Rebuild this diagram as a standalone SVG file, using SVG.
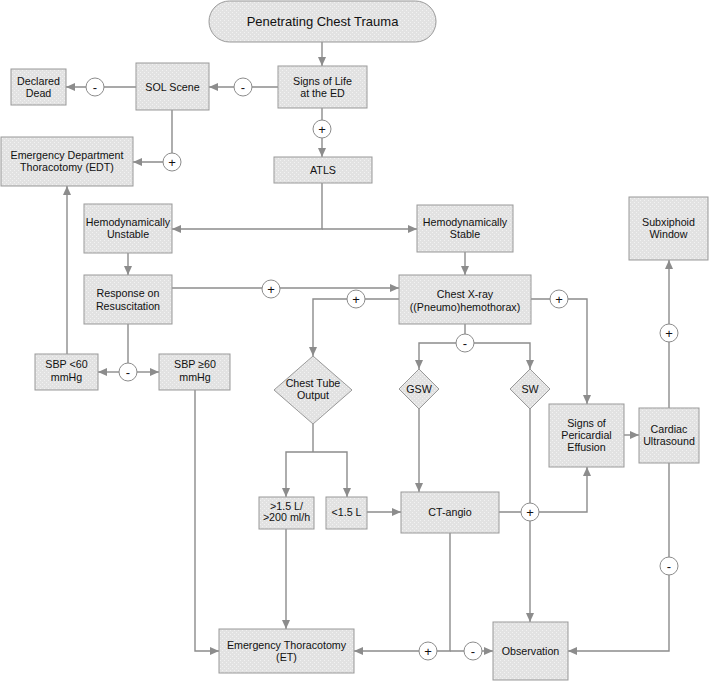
<svg xmlns="http://www.w3.org/2000/svg" width="709" height="681" viewBox="0 0 709 681">
<defs>
<marker id="ah" markerUnits="userSpaceOnUse" markerWidth="9" markerHeight="8" refX="9" refY="4" orient="auto">
<path d="M0,0 L9,4 L0,8 z" fill="#8c8c8c"/>
</marker>
<pattern id="tex" width="4" height="4" patternUnits="userSpaceOnUse">
<rect width="4" height="4" fill="#e2e2e2"/>
<rect x="0" y="0" width="1" height="1" fill="#f2f2f2"/>
<rect x="2" y="2" width="1" height="1" fill="#f2f2f2"/>
</pattern>
</defs>
<style>
.n{fill:url(#tex);stroke:#999;stroke-width:1}
.t{font-family:"Liberation Sans",Arial,sans-serif;font-size:10.7px;fill:#111;text-anchor:middle}
.c path{fill:none;stroke:#8c8c8c;stroke-width:1.4}
.a{marker-end:url(#ah)}
.j circle{fill:#fff;stroke:#8c8c8c;stroke-width:1}
.j text{font-family:"Liberation Sans",Arial,sans-serif;font-size:13px;fill:#111;text-anchor:middle}
</style>
<rect width="709" height="681" fill="#fff"/>
<g id="connectors" class="c">
<path class="a" d="M322,42 V66"/>
<path class="a" d="M278,87 H209"/>
<path class="a" d="M136,87 H66"/>
<path class="a" d="M172,110 V162 H133"/>
<path class="a" d="M322,108 V157"/>
<path class="a" d="M322,183 V229 H172"/>
<path class="a" d="M322,229 H417"/>
<path class="a" d="M128,253 V275"/>
<path class="a" d="M465,252 V275"/>
<path class="a" d="M172,288 H399"/>
<path class="a" d="M399,299 H313 V356"/>
<path d="M128,324 V372"/>
<path class="a" d="M128,372 H98"/>
<path class="a" d="M128,372 H159"/>
<path class="a" d="M67,354 V186"/>
<path class="a" d="M195,390 V651 H219"/>
<path class="a" d="M531,299 H587 V404"/>
<path d="M465,324 V343"/>
<path class="a" d="M465,343 H419 V369"/>
<path class="a" d="M465,343 H530 V369"/>
<path d="M313,424 V452"/>
<path class="a" d="M313,452 H286 V497"/>
<path class="a" d="M313,452 H347 V497"/>
<path class="a" d="M286,529 V629"/>
<path class="a" d="M367,512 H401"/>
<path class="a" d="M419,409 V492"/>
<path class="a" d="M530,409 V622"/>
<path class="a" d="M499,512 H587 V467"/>
<path class="a" d="M624,435 H639"/>
<path class="a" d="M669,408 V260"/>
<path class="a" d="M669,463 V651 H568"/>
<path class="a" d="M450,533 V651 H354"/>
<path class="a" d="M450,651 H493"/>
</g>
<g id="junctions" class="j">
<circle cx="243" cy="87" r="9"/><text x="243" y="91.5">-</text>
<circle cx="95" cy="87" r="9"/><text x="95" y="91.5">-</text>
<circle cx="172" cy="162" r="9"/><text x="172" y="166.5">+</text>
<circle cx="322" cy="129" r="9"/><text x="322" y="133.5">+</text>
<circle cx="271" cy="289" r="9"/><text x="271" y="293.5">+</text>
<circle cx="356" cy="299" r="9"/><text x="356" y="303.5">+</text>
<circle cx="128" cy="372" r="9"/><text x="128" y="376.5">-</text>
<circle cx="559" cy="299" r="9"/><text x="559" y="303.5">+</text>
<circle cx="465" cy="343" r="9"/><text x="465" y="347.5">-</text>
<circle cx="669" cy="333" r="9"/><text x="669" y="337.5">+</text>
<circle cx="530" cy="512" r="9"/><text x="530" y="516.5">+</text>
<circle cx="669" cy="566" r="9"/><text x="669" y="570.5">-</text>
<circle cx="428" cy="651" r="9"/><text x="428" y="655.5">+</text>
<circle cx="473" cy="651" r="9"/><text x="473" y="655.5">-</text>
</g>
<g id="title"><rect class="n" x="209" y="1" width="227" height="41" rx="20.5"/><text class="t" x="322.5" y="25.5" style="font-size:13px">Penetrating Chest Trauma</text></g>
<g id="signs"><rect class="n" x="278" y="66" width="89" height="42"/><text class="t" x="322.5" y="85">Signs of Life</text><text class="t" x="322.5" y="97">at the ED</text></g>
<g id="sol"><rect class="n" x="136" y="63" width="73" height="47"/><text class="t" x="172.5" y="91">SOL Scene</text></g>
<g id="dead"><rect class="n" x="11" y="69" width="55" height="36"/><text class="t" x="38.5" y="85">Declared</text><text class="t" x="38.5" y="97">Dead</text></g>
<g id="edt"><rect class="n" x="1" y="137" width="132" height="49"/><text class="t" x="67" y="159">Emergency Department</text><text class="t" x="67" y="171">Thoracotomy (EDT)</text></g>
<g id="atls"><rect class="n" x="274" y="157" width="98" height="26"/><text class="t" x="323" y="174">ATLS</text></g>
<g id="unstable"><rect class="n" x="84" y="204" width="88" height="49"/><text class="t" x="128" y="226">Hemodynamically</text><text class="t" x="128" y="238">Unstable</text></g>
<g id="stable"><rect class="n" x="417" y="205" width="96" height="47"/><text class="t" x="465" y="226">Hemodynamically</text><text class="t" x="465" y="238">Stable</text></g>
<g id="response"><rect class="n" x="84" y="275" width="88" height="49"/><text class="t" x="128" y="297">Response on</text><text class="t" x="128" y="310">Resuscitation</text></g>
<g id="xray"><rect class="n" x="399" y="275" width="132" height="49"/><text class="t" x="465" y="298">Chest X-ray</text><text class="t" x="465" y="311">((Pneumo)hemothorax)</text></g>
<g id="sbp-low"><rect class="n" x="35" y="354" width="63" height="36"/><text class="t" x="66.5" y="368">SBP &lt;60</text><text class="t" x="66.5" y="381">mmHg</text></g>
<g id="sbp-high"><rect class="n" x="159" y="354" width="71" height="36"/><text class="t" x="195" y="368">SBP ≥60</text><text class="t" x="195" y="381">mmHg</text></g>
<g id="chest-tube"><polygon class="n" points="313,356 352,390 313,424 274,390"/><text class="t" x="313" y="387">Chest Tube</text><text class="t" x="313" y="399">Output</text></g>
<g id="gsw"><polygon class="n" points="419,369 439,389 419,409 399,389"/><text class="t" x="419" y="393">GSW</text></g>
<g id="sw"><polygon class="n" points="530,369 550,389 530,409 510,389"/><text class="t" x="530" y="393">SW</text></g>
<g id="subxiphoid"><rect class="n" x="629" y="197" width="79" height="63"/><text class="t" x="668.5" y="226">Subxiphoid</text><text class="t" x="668.5" y="238">Window</text></g>
<g id="pericardial"><rect class="n" x="549" y="404" width="75" height="63"/><text class="t" x="586.5" y="427">Signs of</text><text class="t" x="586.5" y="439">Pericardial</text><text class="t" x="586.5" y="451">Effusion</text></g>
<g id="cardiac"><rect class="n" x="639" y="408" width="60" height="55"/><text class="t" x="669" y="433">Cardiac</text><text class="t" x="669" y="445">Ultrasound</text></g>
<g id="gt15"><rect class="n" x="259" y="497" width="55" height="32"/><text class="t" x="286.5" y="510">&gt;1.5 L/</text><text class="t" x="286.5" y="521">&gt;200 ml/h</text></g>
<g id="lt15"><rect class="n" x="326" y="497" width="41" height="32"/><text class="t" x="346.5" y="516">&lt;1.5 L</text></g>
<g id="ctangio"><rect class="n" x="401" y="492" width="98" height="41"/><text class="t" x="450" y="516">CT-angio</text></g>
<g id="et"><rect class="n" x="219" y="629" width="135" height="44"/><text class="t" x="286.5" y="649">Emergency Thoracotomy</text><text class="t" x="286.5" y="661">(ET)</text></g>
<g id="observation"><rect class="n" x="493" y="622" width="75" height="58"/><text class="t" x="530.5" y="655">Observation</text></g>
</svg>
